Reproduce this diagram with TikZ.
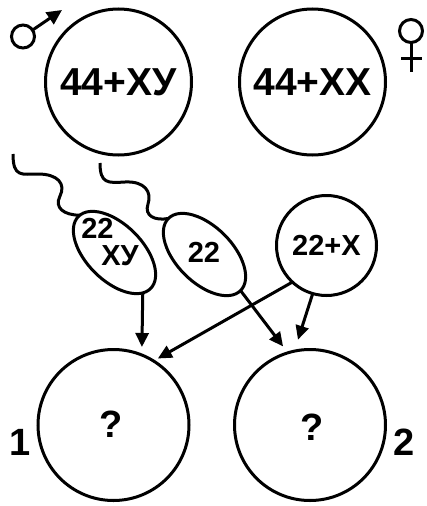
\documentclass[tikz,border=0pt]{standalone}
\usepackage{fontspec}
\setmainfont{Liberation Sans}
\usetikzlibrary{arrows.meta,shapes.geometric}
\begin{document}
\begin{tikzpicture}[x=1pt,y=-1pt,
  ring/.style={draw, line width=3pt, circle, inner sep=0pt, outer sep=0pt},
  oval/.style={draw, line width=3pt, ellipse, inner sep=0pt, outer sep=0pt,
    minimum width=102pt, minimum height=56pt, rotate=-45},
  big/.style={font=\fontsize{39}{39}\selectfont\bfseries},
  mid/.style={font=\fontsize{29}{29}\selectfont\bfseries},
  num/.style={font=\fontsize{38}{38}\selectfont\bfseries},
  conn/.style={line width=3pt, -{Triangle[length=14pt,width=13pt]}},
  tail/.style={line width=3pt},
  sym/.style={line width=3pt}]
\useasboundingbox (0,0) rectangle (427,506);
% parents
\node[ring, minimum size=146pt, big] (pa) at (118.5,82) {44+ХУ};
\node[ring, minimum size=146pt, big] (pb) at (312.5,82) {44+ХХ};
% gametes
\node[ring, minimum size=100pt, mid] (ex) at (326.5,245.5) {22+Х};
\node[oval] (e1) at (114.5,252.5) {};
\node[oval] (e2) at (204.5,254.5) {};
\node[mid] (t1a) at (97.5,228.5) {22};
\node[mid] (t1b) at (120,256) {ХУ};
\node[mid] (t2) at (204,252.5) {22};
% tails
\draw[tail] (13,154) .. controls (13,178) and (22,174) .. (38,174)
  .. controls (58,174) and (66,184) .. (60,196)
  .. controls (54,208) and (64,215) .. (e1.178);
\draw[tail] (100,163) .. controls (100,184) and (108,183) .. (125,182)
  .. controls (145,181) and (152,192) .. (148,204)
  .. controls (144,216) and (155,221) .. (e2.west);
% offspring
\node[ring, minimum size=151pt] (c1) at (113.5,425) {};
\node[ring, minimum size=151pt] (c2) at (310,425) {};
\node[num] (q1) at (111,424.5) {?};
\node[num] (q2) at (312,427) {?};
\node[num] (n1) at (20,442) {1};
\node[num] (n2) at (404,442) {2};
% arrows
\draw[conn, shorten >=8pt] (e1.-10) -- (c1.68);
\draw[conn, shorten >=5pt] (ex.227) -- (c1.58);
\draw[conn, shorten >=8pt] (e2.east) -- (c2.107);
\draw[conn, shorten >=12pt] (ex.254) -- (c2.102);
% male symbol
\node[ring, sym, minimum size=23pt] (male) at (23,36.5) {};
\coordinate (mtip) at (62,10);
\draw[sym, -{Triangle[length=15pt,width=14pt]}] (male.34) -- (mtip);
% female symbol
\node[ring, sym, minimum size=23pt] (fem) at (411,31) {};
\coordinate (fbot) at (411,72);
\coordinate (fl) at (401,58);
\coordinate (fr) at (422,58);
\draw[sym] (fem.south) -- (fbot);
\draw[sym] (fl) -- (fr);
\end{tikzpicture}
\end{document}
